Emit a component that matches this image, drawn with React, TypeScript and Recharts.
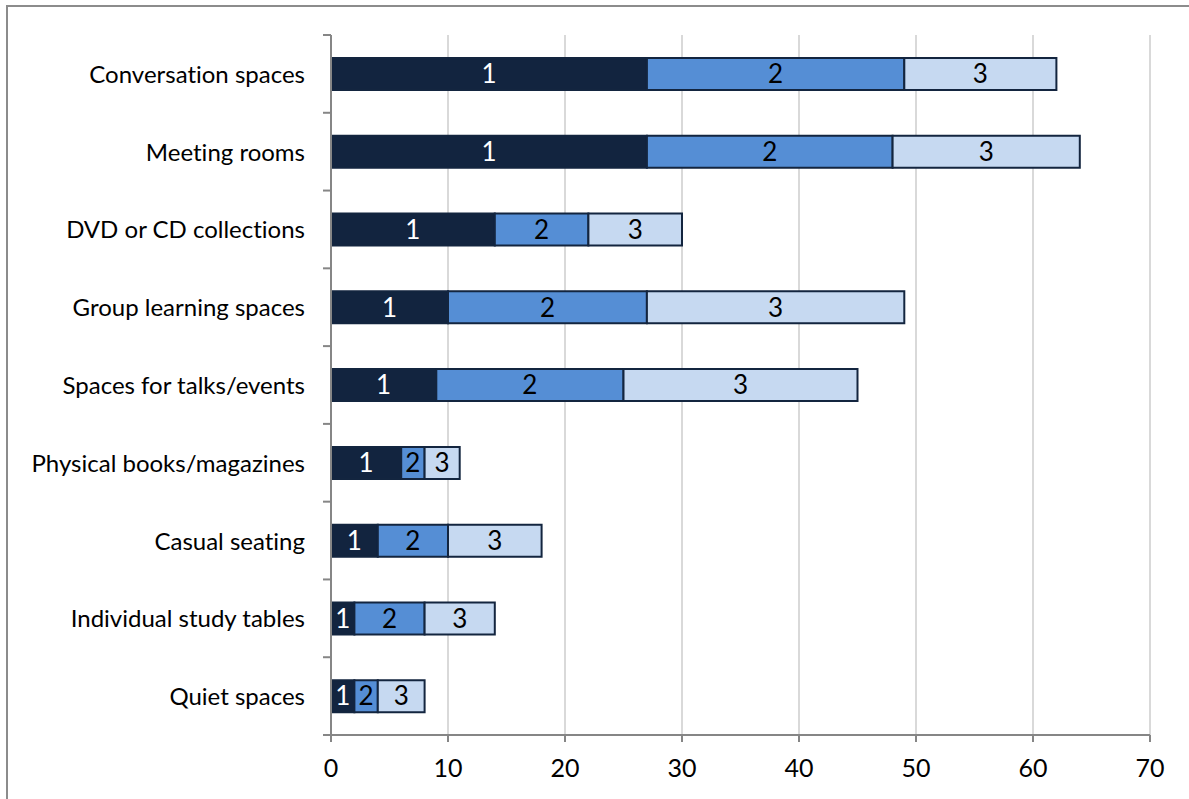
import React from "react";
import {Bar, BarChart, CartesianGrid, LabelList, XAxis, YAxis} from "recharts";

const categories = [
  "Conversation spaces",
  "Meeting rooms",
  "DVD or CD collections",
  "Group learning spaces",
  "Spaces for talks/events",
  "Physical books/magazines",
  "Casual seating",
  "Individual study tables",
  "Quiet spaces",
];
const rank1 = [27, 27, 14, 10, 9, 6, 4, 2, 2];
const rank2 = [22, 21, 8, 17, 16, 2, 6, 6, 2];
const rank3 = [13, 16, 8, 22, 20, 3, 8, 6, 4];
const xTicks = [0, 10, 20, 30, 40, 50, 60, 70];

const data = categories.map((name, i) => ({
  name,
  r1: rank1[i],
  r2: rank2[i],
  r3: rank3[i],
}));

const FONT = "Lato, 'Liberation Sans', sans-serif";
const AXIS = "#868686";
const EDGE = "#13253F";
const TOP = 35;
const BOTTOM = 735;
const BAND = (BOTTOM - TOP) / categories.length;

const CategoryTick = (props: any) => {
  const {x, y, payload, index} = props;
  const last = index === categories.length - 1;
  return (
    <g>
      <line x1={x - 8} x2={x} y1={y - BAND / 2} y2={y - BAND / 2} stroke={AXIS} strokeWidth={2}/>
      {last && (
        <line x1={x - 8} x2={x} y1={y + BAND / 2} y2={y + BAND / 2} stroke={AXIS} strokeWidth={2}/>
      )}
      <text x={x - 26} y={y} dy={9} textAnchor="end" fontSize={24} fontFamily={FONT} fill="#000">
        {payload.value}
      </text>
    </g>
  );
};

export default function App() {
  return (
    <div style={{position: "absolute", left: 0, top: 0, width: 1189, height: 799, overflow: "hidden", background: "#fff", fontVariantLigatures: "none"}}>
      <div
        style={{
          position: "absolute",
          left: 6,
          top: 5,
          width: 1400,
          height: 1000,
          border: "2px solid #8c8c8c",
        }}
      />
      <BarChart
        width={1189}
        height={799}
        data={data}
        layout="vertical"
        margin={{top: TOP, right: 39, bottom: 0, left: 0}}
        barSize={32}
        style={{position: "absolute", left: 0, top: 0}}
      >
        <CartesianGrid horizontal={false} stroke="#d9d9d9" strokeWidth={2}/>
        <XAxis
          type="number"
          domain={[0, 70]}
          ticks={xTicks}
          interval={0}
          height={64}
          stroke={AXIS}
          axisLine={{stroke: AXIS, strokeWidth: 2}}
          tickLine={{stroke: AXIS, strokeWidth: 2}}
          tickSize={7}
          tickMargin={17}
          tick={{fontSize: 25, fontFamily: FONT, fill: "#000"}}
        />
        <YAxis
          type="category"
          dataKey="name"
          width={331}
          interval={0}
          axisLine={{stroke: AXIS, strokeWidth: 2}}
          tickLine={false}
          tickSize={0}
          tickMargin={0}
          tick={<CategoryTick/>}
        />
        <Bar dataKey="r1" stackId="a" fill="#12243F" stroke={EDGE} strokeWidth={2} isAnimationActive={false}>
          <LabelList position="center" formatter={() => "1"} fill="#fff" fontSize={26} fontFamily={FONT}/>
        </Bar>
        <Bar dataKey="r2" stackId="a" fill="#558ED5" stroke={EDGE} strokeWidth={2} isAnimationActive={false}>
          <LabelList position="center" formatter={() => "2"} fill="#000" fontSize={26} fontFamily={FONT}/>
        </Bar>
        <Bar dataKey="r3" stackId="a" fill="#C6D9F1" stroke={EDGE} strokeWidth={2} isAnimationActive={false}>
          <LabelList position="center" formatter={() => "3"} fill="#000" fontSize={26} fontFamily={FONT}/>
        </Bar>
      </BarChart>
    </div>
  );
}
